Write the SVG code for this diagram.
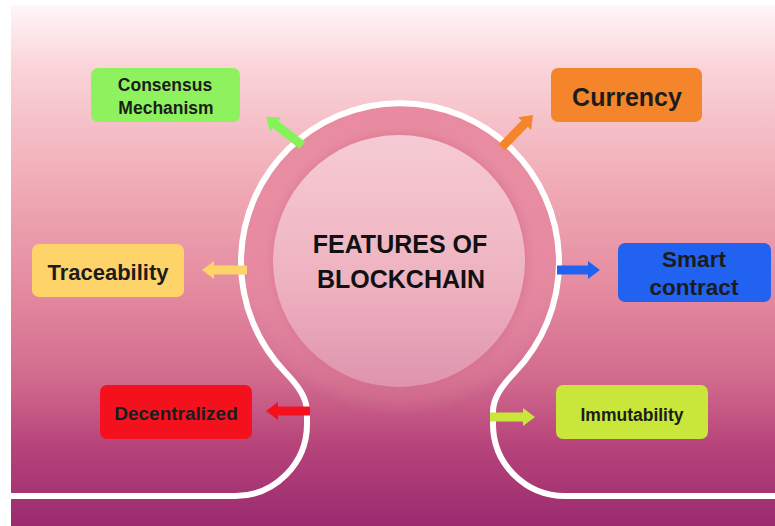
<svg xmlns="http://www.w3.org/2000/svg" width="775" height="526" viewBox="0 0 775 526">
  <defs>
    <linearGradient id="bg" x1="0" y1="0" x2="0" y2="1">
      <stop offset="0" stop-color="#fff6f7"/>
      <stop offset="0.12" stop-color="#fad4d9"/>
      <stop offset="0.35" stop-color="#f0aab5"/>
      <stop offset="0.55" stop-color="#e48a9f"/>
      <stop offset="0.72" stop-color="#d16a8d"/>
      <stop offset="0.84" stop-color="#b7457b"/>
      <stop offset="1" stop-color="#9a2a6e"/>
    </linearGradient>
    <linearGradient id="band" x1="0" y1="0" x2="0" y2="1">
      <stop offset="0" stop-color="#e98a9f"/>
      <stop offset="0.55" stop-color="#e4869e" stop-opacity="0.8"/>
      <stop offset="0.9" stop-color="#d8759a" stop-opacity="0"/>
    </linearGradient>
    <radialGradient id="shade" cx="0.5" cy="0.5" r="0.5">
      <stop offset="0.8" stop-color="#d9708f" stop-opacity="0.5"/>
      <stop offset="0.86" stop-color="#e58aa2" stop-opacity="0.25"/>
      <stop offset="1" stop-color="#eea2b3" stop-opacity="0"/>
    </radialGradient>
    <linearGradient id="inner" x1="0" y1="0" x2="0" y2="1">
      <stop offset="0" stop-color="#f6cbd4"/>
      <stop offset="0.6" stop-color="#eeb1c0"/>
      <stop offset="1" stop-color="#de94ad"/>
    </linearGradient>
    <style>
      .box-text { font-family: "Liberation Sans", Arial, sans-serif; font-weight: bold; fill: #1c1c1c; text-anchor: middle; }
      .center-text { font-family: "Liberation Sans", Arial, sans-serif; font-weight: bold; fill: #111111; text-anchor: middle; font-size: 25px; }
      .line { fill: none; stroke: #ffffff; stroke-width: 6; }
    </style>
  </defs>

  <rect x="0" y="0" width="775" height="526" fill="#ffffff"/>
  <rect x="11" y="5" width="764" height="521" fill="url(#bg)"/>

  <!-- central circle -->
  <g id="center">
    <circle cx="400" cy="261" r="156" fill="url(#band)"/>
    <circle cx="400" cy="261" r="156" fill="url(#shade)"/>
    <circle cx="399" cy="261" r="126" fill="url(#inner)"/>
    <text class="center-text" x="400" y="253">FEATURES OF</text>
    <text class="center-text" x="401" y="288">BLOCKCHAIN</text>
  </g>

  <!-- white outline -->
  <path class="line" d="M11 496 H235 A72 72 0 0 0 307 424 V412 C307 398 298.8 386.4 285 372 A159 159 0 1 1 515 372 C501.2 386.4 493 398 493 412 V424 A72 72 0 0 0 565 496 H775"/>

  <!-- connectors -->
  <g id="connectors">
    <g transform="translate(266,117) rotate(217.9)"><path fill="#86f25a" d="M-46,-4.5 H-12 V-9 L0,0 L-12,9 V4.5 H-46 Z"/></g>
    <g transform="translate(533,115) rotate(-45.9)"><path fill="#f5852b" d="M-45,-4.5 H-12 V-9 L0,0 L-12,9 V4.5 H-45 Z"/></g>
    <g transform="translate(202,270) rotate(180)"><path fill="#fdd36a" d="M-45,-4.5 H-12 V-9 L0,0 L-12,9 V4.5 H-45 Z"/></g>
    <g transform="translate(600,270)"><path fill="#2262f0" d="M-43,-4.5 H-12 V-9 L0,0 L-12,9 V4.5 H-43 Z"/></g>
    <g transform="translate(266,411) rotate(180)"><path fill="#f5101e" d="M-44,-4.5 H-12 V-9 L0,0 L-12,9 V4.5 H-44 Z"/></g>
    <g transform="translate(535,417)"><path fill="#c9e63a" d="M-45,-4.5 H-12 V-9 L0,0 L-12,9 V4.5 H-45 Z"/></g>
  </g>

  <g id="consensus">
    <rect x="91" y="68" width="149" height="54" rx="7" fill="#8ef25e"/>
    <text class="box-text" x="165" y="91" font-size="17.5">Consensus</text>
    <text class="box-text" x="166" y="114" font-size="17.5">Mechanism</text>
  </g>

  <g id="currency">
    <rect x="551" y="68" width="151" height="54" rx="7" fill="#f5852b"/>
    <text class="box-text" x="627" y="106" font-size="25">Currency</text>
  </g>

  <g id="traceability">
    <rect x="32" y="244" width="152" height="53" rx="7" fill="#fdd36a"/>
    <text class="box-text" x="108" y="280" font-size="22">Traceability</text>
  </g>

  <g id="smart">
    <rect x="618" y="243" width="153" height="59" rx="7" fill="#2262f0"/>
    <text class="box-text" x="694" y="267" font-size="22.5">Smart</text>
    <text class="box-text" x="694" y="295" font-size="22.5">contract</text>
  </g>

  <g id="decentralized">
    <rect x="100" y="385" width="152" height="54" rx="7" fill="#f5101e"/>
    <text class="box-text" x="176" y="420" font-size="19">Decentralized</text>
  </g>

  <g id="immutability">
    <rect x="556" y="385" width="152" height="54" rx="7" fill="#c9e63a"/>
    <text class="box-text" x="632" y="421" font-size="17.5">Immutability</text>
  </g>
</svg>
